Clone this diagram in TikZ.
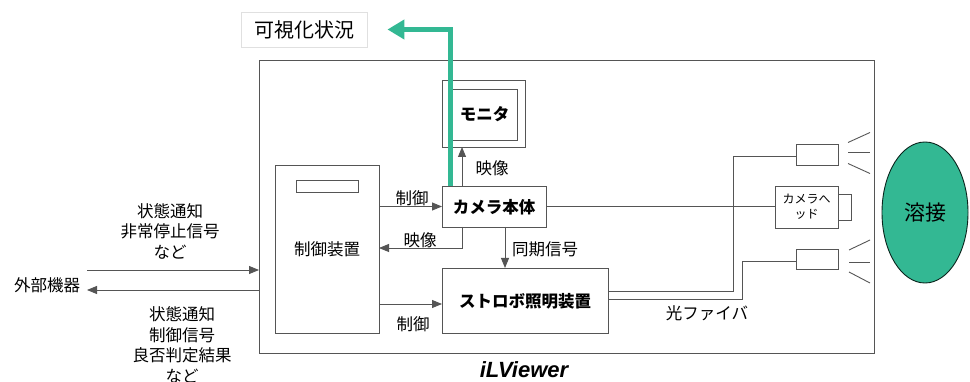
\documentclass[tikz,border=0pt]{standalone}
\usepackage{fontspec}
\setmainfont{Noto Sans CJK JP}
\newfontfamily\latinsans{Liberation Sans}
\usetikzlibrary{arrows.meta,calc,shapes.geometric}
\definecolor{lc}{HTML}{555555}
\definecolor{weldg}{HTML}{33B893}
\tikzset{
  box/.style={draw=lc, line width=0.9pt, inner sep=0pt, outer sep=0pt, fill=white},
  lbl/.style={font=\fontsize{16.5}{18}\selectfont, inner sep=0pt, align=center},
  blbl/.style={font=\fontsize{16.5}{18}\selectfont\bfseries, inner sep=0pt},
  conn/.style={draw=lc, line width=0.9pt},
  arr/.style={conn, -{Triangle[length=10pt,width=8pt]}},
}
\begin{document}
\begin{tikzpicture}[x=1pt,y=-1pt]
\useasboundingbox (0,0) rectangle (970,382);
% frame
\node[box, fill=none, minimum width=615, minimum height=293] (frame) at (566.5,206.5) {};
\node[font=\latinsans\fontsize{22}{24}\selectfont\bfseries\itshape, inner sep=0pt] (ilv) at (524,370) {iLViewer};
% visualisation box
\node[draw=black!12, line width=0.9pt, minimum width=126, minimum height=35, inner sep=0pt, font=\fontsize{20}{22}\selectfont] (vis) at (304,29.5) {可視化状況};
% boxes
\node[box, minimum width=104, minimum height=168] (ctrl) at (327,249) {};
\node[box, minimum width=62, minimum height=12] (ctrlin) at (327,186) {};
\node[lbl] at (327,249) {制御装置};
\node[box, minimum width=104, minimum height=41] (cam) at (494,206.5) {};
\node[blbl] at (494,207) {カメラ本体};
\node[box, minimum width=83, minimum height=67] (mon) at (483.5,113.5) {};
\node[box, minimum width=65, minimum height=51] (monin) at (484.5,114.5) {};
\node[blbl] at (484.5,114.5) {モニタ};
\node[box, minimum width=166, minimum height=65] (strobe) at (525,300.5) {};
\node[blbl] at (525,301) {ストロボ照明装置};
\node[box, minimum width=63, minimum height=42, align=center, font=\fontsize{12}{15}\selectfont] (head) at (806.5,207) {カメラへ\\ッド};
\node[box, minimum width=13, minimum height=26] (lens) at (844.5,207) {};
\node[box, minimum width=42, minimum height=21] (light1) at (817,154.5) {};
\node[box, minimum width=42, minimum height=20] (light2) at (817,259) {};
\node[ellipse, draw=black!80!weldg, line width=0.9pt, fill=weldg, minimum width=86, minimum height=141, inner sep=0pt, font=\fontsize{21}{23}\selectfont] (weld) at (925,212.5) {溶接};
% rays
\draw[conn] ($(light1.east)+(10,-12)$) -- ($(light1.east)+(32,-22)$);
\draw[conn] ($(light1.east)+(10,-2)$) -- ($(light1.east)+(32,-2)$);
\draw[conn] ($(light1.east)+(10,9)$) -- ($(light1.east)+(32,19)$);
\draw[conn] ($(light2.east)+(11,-9)$) -- ($(light2.east)+(32,-19)$);
\draw[conn] ($(light2.east)+(11,3)$) -- ($(light2.east)+(32,3)$);
\draw[conn] ($(light2.east)+(11,13)$) -- ($(light2.east)+(32,24)$);
% connectors inside
\draw[arr] (ctrl.east |- cam.west) -- (cam.west);
\node[lbl] at (412,198) {制御};
\coordinate (vret) at (462,248);
\draw[arr] ([xshift=20pt]cam.south west) |- (ctrl.east |- vret);
\node[lbl] at (420,240) {映像};
\draw[arr] ([xshift=20pt]cam.north west) -- ([xshift=20pt]cam.north west |- mon.south);
\node[lbl] at (492,168) {映像};
\draw[arr] ([xshift=63pt]cam.south west) -- ([xshift=63pt]cam.south west |- strobe.north);
\node[lbl, anchor=west] at (512,249) {同期信号};
\coordinate (cs) at (400,304);
\draw[arr] (ctrl.east |- cs) -- (strobe.west |- cs);
\node[lbl] at (413,324) {制御};
\draw[conn] (cam.east) -- (cam.east -| head.west);
\draw[conn] ($(strobe.north east)+(0,23)$) -| ($(light1.west)+(-63,2)$) -- ($(light1.west)+(0,2)$);
\draw[conn] ($(strobe.north east)+(0,31)$) -| ($(light2.west)+(-54,2)$) -- ($(light2.west)+(0,2)$);
\node[lbl] at (707,313) {光ファイバ};
% external
\node[lbl] (ext) at (47,285) {外部機器};
\coordinate (e1) at (87,270);
\coordinate (e2) at (87,290);
\draw[arr] (e1) -- (e1 -| frame.west);
\draw[arr] (e2 -| frame.west) -- (e2);
\node[lbl, font=\fontsize{16.5}{20.5}\selectfont] at (170,231) {状態通知\\非常停止信号\\など};
\node[lbl, font=\fontsize{16.5}{20.5}\selectfont] at (182,345) {状態通知\\制御信号\\良否判定結果\\など};
% green arrow
\draw[draw=weldg, line width=5pt, -{Triangle[length=17pt,width=19pt]}, shorten >=20pt]
  ([xshift=8pt]cam.north west) |- (vis.east);
\end{tikzpicture}
\end{document}
